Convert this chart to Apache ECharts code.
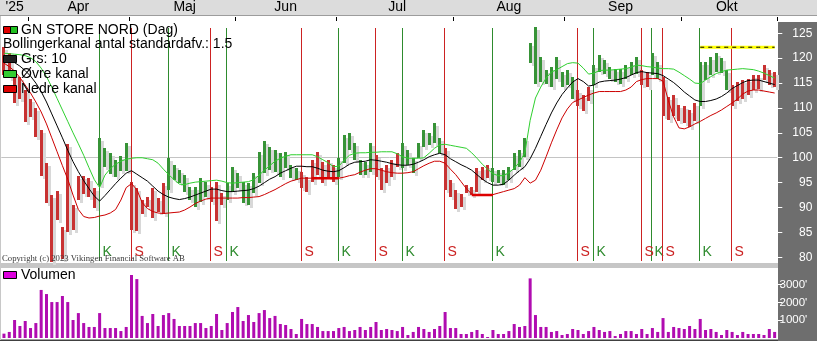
<!DOCTYPE html>
<html><head><meta charset="utf-8">
<script src="https://cdn.jsdelivr.net/npm/echarts@6/dist/echarts.min.js"></script>
<style>html,body{margin:0;padding:0;background:#fff}#c{width:817px;height:346px}</style>
</head><body><div id="c"></div>
<script>
// ---- data (one entry per trading day) ----
const lows = [116.6,116.0,110.9,111.9,107.2,108.2,104.2,96.3,91.0,79.0,87.5,79.7,85.0,85.5,91.5,92.8,92.2,90.0,94.5,98.2,
96.7,96.2,97.3,97.4,85.5,85.2,88.8,90.2,87.8,89.2,88.8,93.5,95.5,94.9,93.2,91.5,90.2,91.2,92.2,91.2,
87.2,90.5,91.5,93.2,93.9,90.9,90.5,92.9,94.9,97.0,97.5,97.2,96.2,97.9,95.9,95.5,93.9,93.2,95.2,96.5,
94.9,96.2,95.2,96.2,98.9,101.6,99.5,96.5,96.5,97.2,96.2,93.5,94.9,96.2,98.2,97.9,98.5,96.9,99.9,102.2,
102.6,102.9,100.9,93.5,92.2,89.8,90.2,92.9,92.5,93.2,95.5,95.9,95.2,94.9,94.5,95.5,97.5,98.2,100.2,119.0,
114.9,115.3,114.9,114.3,115.9,114.3,114.6,111.9,110.3,109.3,111.3,114.6,117.3,116.9,115.9,115.3,114.9,115.9,116.6,116.9,
114.6,114.3,116.6,115.9,108.3,107.6,108.3,107.3,106.9,106.2,107.3,110.3,115.6,116.6,117.3,117.0,113.6,110.3,111.3,111.9,
112.6,113.6,113.9,115.6,114.6,114.3];
const highs = [122.3,121.0,117.0,116.3,113.6,111.9,109.9,105.6,99.0,92.5,93.3,86.0,102.8,90.5,96.3,96.4,96.0,93.9,103.9,102.0,
100.9,99.5,100.4,102.9,95.2,93.9,91.5,92.2,93.9,91.9,94.9,99.9,98.5,97.5,96.5,94.2,94.2,95.9,95.2,94.2,
95.2,92.9,94.9,98.2,96.9,95.2,94.9,96.9,101.2,103.4,102.2,101.6,100.9,101.2,98.5,97.9,97.2,96.2,99.5,101.2,
99.2,99.5,98.5,99.9,104.6,104.9,102.9,99.5,99.2,102.9,100.6,97.9,98.5,99.5,100.9,102.9,101.6,99.9,102.9,105.6,
104.9,106.9,103.9,101.9,95.5,93.5,92.8,94.5,94.2,97.9,98.2,98.5,97.9,97.5,97.5,98.2,100.9,101.5,103.9,123.1,
126.3,120.3,117.6,118.3,120.3,117.3,117.6,116.3,113.6,112.6,114.3,118.6,120.6,119.6,118.3,117.9,117.9,118.6,119.3,120.3,
117.6,117.3,121.0,119.3,116.3,112.3,112.6,110.6,110.3,109.6,110.9,119.3,119.3,120.3,121.0,120.0,117.6,114.6,115.3,115.6,
115.9,116.6,116.6,118.6,117.6,117.3];
const ma10 = [120.0,119.6,119.1,118.4,117.5,116.4,115.0,113.3,111.2,108.8,106.4,104.0,101.5,99.2,97.2,95.4,93.8,92.3,91.3,92.4,
93.6,94.8,95.9,96.9,97.4,96.7,96.0,95.3,94.3,93.3,92.6,92.1,91.8,91.6,91.8,92.1,92.5,92.9,93.3,93.7,
93.7,93.4,93.2,93.2,93.3,93.4,93.5,93.8,94.3,95.0,95.7,96.2,96.9,97.4,97.9,98.3,98.3,98.2,98.2,97.9,
97.5,97.3,97.2,97.4,98.0,98.7,99.1,99.2,99.3,99.6,99.5,99.3,99.1,98.8,98.6,98.5,98.5,98.7,99.1,99.6,
100.2,100.6,100.9,100.6,99.8,99.2,98.6,98.1,97.5,96.6,95.7,95.0,94.5,94.5,94.7,95.5,96.5,97.4,98.2,99.8,
101.9,104.3,106.7,109.0,111.0,112.7,114.0,115.2,115.9,115.3,114.4,114.6,115.2,115.4,115.5,115.6,115.8,116.1,116.6,117.1,
117.3,117.1,117.0,116.9,116.5,115.8,115.1,114.2,113.2,112.4,111.6,111.3,111.3,111.5,111.8,112.3,113.0,113.9,114.5,115.1,
115.5,115.6,115.6,115.3,115.0,114.7];
const upperBand = [121.0,120.9,120.8,120.7,120.5,120.1,119.3,118.0,116.3,114.2,111.9,109.6,107.3,105.0,102.8,100.5,98.0,95.6,94.0,96.5,
97.8,98.7,99.3,99.7,99.9,100.0,100.0,99.8,99.6,98.9,97.7,96.6,95.6,94.7,94.6,94.9,95.1,95.2,95.3,95.4,
95.5,95.3,95.0,94.9,95.0,95.1,95.2,95.6,96.5,97.5,98.4,99.3,99.9,100.3,100.6,100.6,100.6,100.6,100.6,100.2,
99.6,99.0,98.2,98.3,99.5,100.5,100.9,101.0,101.0,101.1,101.1,101.2,101.2,101.2,100.8,100.2,99.9,99.9,99.9,100.0,
100.9,101.9,102.6,102.7,102.5,102.3,102.1,101.9,101.0,99.9,98.7,97.7,96.8,96.4,96.4,97.0,97.9,99.1,101.0,107.5,
112.0,114.2,116.0,117.2,117.7,118.3,118.9,119.1,119.0,118.0,116.8,117.0,117.5,117.6,117.6,117.7,117.8,117.9,118.2,118.6,
118.5,118.3,118.2,118.0,117.9,117.9,117.8,117.2,116.5,115.8,115.0,114.9,115.6,116.3,116.9,117.3,117.6,117.7,117.8,117.9,
117.8,117.7,117.4,117.0,116.5,116.0];
const lowerBand = [119.0,118.3,117.4,116.1,114.6,113.0,111.2,109.2,106.8,104.0,101.2,98.4,95.7,92.5,89.6,88.2,87.9,88.0,88.3,88.5,
88.9,89.6,91.5,94.0,94.8,93.6,91.0,89.8,89.2,88.9,88.8,88.9,89.0,89.1,89.5,90.1,90.8,91.3,91.7,91.9,
91.9,91.9,91.9,91.9,91.9,92.0,92.0,92.1,92.2,92.6,93.1,93.6,94.2,94.8,95.3,95.6,95.9,95.9,95.9,95.9,
95.9,95.9,95.9,95.9,96.1,96.4,96.6,97.1,97.5,97.8,97.8,97.5,97.2,97.0,96.9,96.9,97.0,97.2,97.8,98.4,
98.9,99.3,99.3,98.9,97.7,96.6,95.2,93.8,92.7,92.5,92.5,92.5,92.6,92.9,93.2,93.5,93.8,94.5,96.0,94.9,
95.5,97.5,100.2,103.0,105.6,108.0,109.8,111.1,111.6,112.1,112.6,113.0,113.3,113.3,113.3,113.3,113.3,113.6,114.2,115.3,
115.7,115.9,115.9,115.9,115.4,111.5,108.2,106.0,105.8,106.2,106.8,107.3,107.9,108.5,109.0,109.6,110.3,111.0,111.8,112.8,
113.4,113.6,113.6,113.4,113.2,113.0];
const volume = [245,340,1010,675,955,560,840,2700,2470,2020,2020,2360,2020,1010,1400,840,620,620,1400,560,
560,560,390,620,3540,3310,1240,840,1350,675,1290,1400,1070,675,675,675,840,840,560,675,
1350,450,840,1460,1740,955,1290,900,1400,1570,1120,1240,785,730,505,225,1070,785,785,620,
390,390,390,560,620,390,450,620,450,620,900,450,505,450,390,620,170,340,620,505,
340,505,675,1460,560,560,225,225,340,450,225,56,450,225,225,390,785,620,675,3350,
1290,620,620,340,390,170,225,505,450,225,390,620,450,340,390,110,225,390,390,225,
505,225,560,340,1120,340,620,560,505,675,505,1070,450,505,340,170,450,340,170,340,
225,225,225,170,505,340];
const buySignals  = [18, 31, 42, 63, 75, 92, 111, 122, 131];
const sellSignals = [24, 39, 56, 70, 83, 108, 120, 124, 137];
const monthStartIdx  = [5, 24, 44, 63, 85, 106, 128];
const monthLabelIdx  = [2, 14, 34, 53, 74, 95, 116, 136];
const monthLabelText = ["'25", "Apr", "Maj", "Jun", "Jul", "Aug", "Sep", "Okt"];
const priceTicks  = [80, 85, 90, 95, 100, 105, 110, 115, 120, 125];
const volumeTicks = [1000, 2000, 3000];
const targetLevel = 122.2, targetFrom = 131;
const stopFrom = [58, 88], stopTo = [63, 92], stopLevel = [95.9, 92.5];

// ---- styling ----
const NARROW = "'Liberation Sans Narrow','Arial Narrow','Liberation Sans',sans-serif";
const GREEN = '#379337', RED = '#c83232';
const GL = 1.3, GW = 776;

const categories = lows.map((_, i) => i);
function stateAt(i) {
  let last = -1, buy = false;
  buySignals.forEach(b => { if (b <= i && b > last) { last = b; buy = true; } });
  sellSignals.forEach(s => { if (s <= i && s > last) { last = s; buy = false; } });
  return buy ? 1 : 0;
}
const barData = lows.map((l, i) => [i, l, highs[i], stateAt(i)]);
const signalData = buySignals.map(i => [i, 0]).concat(sellSignals.map(i => [i, 1]));
const targetData = categories.map(i => i >= targetFrom ? targetLevel : null);
const stopData = categories.map(i => {
  for (let k = 0; k < stopFrom.length; k++) if (i >= stopFrom[k] && i <= stopTo[k]) return stopLevel[k];
  return null;
});

function renderBar(offset, fillFn) {
  return function (params, api) {
    const i = api.value(0);
    const lo = api.coord([i, api.value(1)]);
    const hi = api.coord([i, api.value(2)]);
    const x = Math.round(lo[0] - 1.5) + offset;
    const top = Math.round(hi[1]) + offset;
    const h = Math.max(1, Math.round(lo[1]) - Math.round(hi[1]));
    return { type: 'rect', shape: { x: x, y: top, width: 3, height: h }, style: { fill: fillFn(api.value(3)) } };
  };
}
function renderSignal(params, api) {
  const i = api.value(0), sell = api.value(1) === 1;
  const cs = params.coordSys;
  const x = Math.round(api.coord([i, 100])[0] - 1) + 0.5;
  const col = sell ? '#cc2222' : '#2e8b2e';
  return { type: 'group', children: [
    { type: 'line', shape: { x1: x, y1: cs.y + 11, x2: x, y2: cs.y + cs.height - 2 }, style: { stroke: col, lineWidth: 1 } },
    { type: 'text', x: x + 3, y: cs.y + cs.height - 4, style: { text: sell ? 'S' : 'K', fill: col, font: '14px ' + NARROW, textAlign: 'left', textVerticalAlign: 'bottom' } }
  ]};
}

const chart = echarts.init(document.getElementById('c'));
const legendRows = [
  { y: 30, text: 'GN STORE NORD (Dag)', tx: 21 },
  { y: 44.5, text: 'Bollingerkanal antal standardafv.: 1.5', tx: 3 },
  { y: 59, text: 'Grs: 10', tx: 21 },
  { y: 74, text: 'Øvre kanal', tx: 21 },
  { y: 89, text: 'Nedre kanal', tx: 21 }
];
const graphics = [
  { type: 'rect', z: -10, shape: { x: 0, y: 0, width: 817, height: 15.5 }, style: { fill: '#dcdcdc' } },
  { type: 'rect', z: -10, shape: { x: 0, y: 15, width: 817, height: 1 }, style: { fill: '#9c9c9c' } },
  { type: 'rect', z: -10, shape: { x: 778, y: 22, width: 39, height: 319 }, style: { fill: '#6e6e6e' } },
  { type: 'rect', z: -10, shape: { x: 0, y: 263, width: 778, height: 5 }, style: { fill: '#c6c6c6' } },
  { type: 'rect', z: -10, shape: { x: 0, y: 339.5, width: 778, height: 1.5 }, style: { fill: '#404040' } },
  { type: 'rect', z: -10, shape: { x: 0, y: 16, width: 1, height: 324 }, style: { fill: '#c8c8c8' } },
  // legend icons
  { type: 'rect', z: 100, shape: { x: 3.5, y: 26.5, width: 7, height: 7 }, style: { fill: '#e00000', stroke: '#000', lineWidth: 1 } },
  { type: 'rect', z: 100, shape: { x: 10.5, y: 26.5, width: 7, height: 7 }, style: { fill: '#20c020', stroke: '#000', lineWidth: 1 } },
  { type: 'rect', z: 100, shape: { x: 3.5, y: 55.5, width: 13, height: 7 }, style: { fill: '#202020', stroke: '#000', lineWidth: 1 } },
  { type: 'rect', z: 100, shape: { x: 3.5, y: 70.5, width: 13, height: 7 }, style: { fill: '#33cc33', stroke: '#000', lineWidth: 1 } },
  { type: 'rect', z: 100, shape: { x: 3.5, y: 85.5, width: 13, height: 7 }, style: { fill: '#dd0000', stroke: '#000', lineWidth: 1 } },
  { type: 'rect', z: 100, shape: { x: 3.5, y: 271.5, width: 13, height: 7 }, style: { fill: '#dd00dd', stroke: '#000', lineWidth: 1 } },
  { type: 'text', z: 100, x: 21, y: 275, style: { text: 'Volumen', fill: '#000', font: '14px ' + NARROW, textVerticalAlign: 'middle' } },
  { type: 'text', z: 100, x: 2, y: 259, style: { text: 'Copyright (c) 2023 Vikingen Financial Software AB', fill: '#3a3a3a', font: '8.7px "Liberation Serif",serif', textVerticalAlign: 'middle' } }
].concat(legendRows.map(r => ({ type: 'text', z: 100, x: r.tx, y: r.y,
  style: { text: r.text, fill: '#000', font: '14px ' + NARROW, textVerticalAlign: 'middle' } })));

chart.setOption({
  animation: false,
  backgroundColor: '#ffffff',
  graphic: graphics,
  grid: [
    { left: GL, width: GW, top: 17, height: 246 },
    { left: GL, width: GW, top: 268, height: 70 }
  ],
  xAxis: [
    { type: 'category', gridIndex: 0, data: categories, position: 'top', boundaryGap: true,
      axisLine: { show: false },
      axisTick: { show: true, inside: true, length: 4, lineStyle: { color: '#000' },
        interval: (idx) => monthStartIdx.indexOf(idx) >= 0 },
      axisLabel: { show: true, margin: 3, color: '#000', fontSize: 14, fontFamily: NARROW,
        interval: (idx) => monthLabelIdx.indexOf(idx) >= 0,
        formatter: (v, idx) => { const k = monthLabelIdx.indexOf(idx); return k >= 0 ? monthLabelText[k] : ''; } },
      splitLine: { show: false } },
    { type: 'category', gridIndex: 1, data: categories, boundaryGap: true,
      axisLine: { show: false }, axisTick: { show: false }, axisLabel: { show: false }, splitLine: { show: false } }
  ],
  yAxis: [
    { type: 'value', gridIndex: 0, position: 'right', min: 78.86, max: 128.27,
      axisLine: { show: false }, splitLine: { show: false },
      axisTick: { show: true, customValues: priceTicks, length: 5, lineStyle: { color: '#ffffff' } },
      axisLabel: { show: true, customValues: priceTicks, color: '#ffffff', fontSize: 12, fontFamily: NARROW, align: 'right', margin: 35 } },
    { type: 'value', gridIndex: 1, position: 'right', min: 0, max: 3933,
      axisLine: { show: false }, splitLine: { show: false },
      axisTick: { show: true, customValues: volumeTicks, length: 5, lineStyle: { color: '#ffffff' } },
      axisLabel: { show: true, customValues: volumeTicks, color: '#ffffff', fontSize: 11.5, fontFamily: NARROW, align: 'right', margin: 30,
        formatter: v => v + "'" } }
  ],
  series: [
    { type: 'custom', name: 'signals', xAxisIndex: 0, yAxisIndex: 0, z: 1, data: signalData,
      encode: { x: 0 }, renderItem: renderSignal, silent: true,
      markLine: { silent: true, symbol: 'none', label: { show: false }, z: 0,
        lineStyle: { color: '#c4c4c4', type: 'solid', width: 1 }, data: [{ yAxis: 100 }] } },
    { type: 'custom', name: 'shadow', xAxisIndex: 0, yAxisIndex: 0, z: 2, data: barData,
      encode: { x: 0, y: [1, 2] }, renderItem: renderBar(3, () => '#d8d8d8'), silent: true },
    { type: 'custom', name: 'bars', xAxisIndex: 0, yAxisIndex: 0, z: 3, data: barData,
      encode: { x: 0, y: [1, 2] }, renderItem: renderBar(0, s => s === 1 ? GREEN : RED), silent: true },
    { type: 'line', name: 'Øvre kanal', data: upperBand, z: 4, symbol: 'none', silent: true,
      lineStyle: { color: '#2fd02f', width: 1 } },
    { type: 'line', name: 'Nedre kanal', data: lowerBand, z: 4, symbol: 'none', silent: true,
      lineStyle: { color: '#cc0000', width: 1 } },
    { type: 'line', name: 'Grs: 10', data: ma10, z: 4, symbol: 'none', silent: true,
      lineStyle: { color: '#000000', width: 1 } },
    { type: 'line', name: 'stop', data: stopData, z: 4, symbol: 'none', silent: true,
      lineStyle: { color: '#dd0000', width: 2.5 } },
    { type: 'line', name: 'target', data: targetData, z: 5, symbol: 'none', silent: true,
      lineStyle: { color: '#ffff00', width: 3 } },
    { type: 'line', name: 'target2', data: targetData, z: 6, symbol: 'none', silent: true,
      lineStyle: { color: '#000000', width: 1, type: [4, 4] } },
    { type: 'bar', name: 'Volumen', xAxisIndex: 1, yAxisIndex: 1, data: volume, barWidth: 3,
      itemStyle: { color: '#b00cb0' }, silent: true }
  ]
});
</script></body></html>
